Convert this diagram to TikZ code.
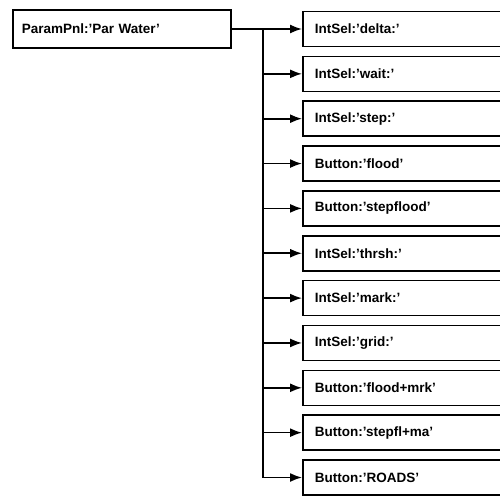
\documentclass[tikz,border=0pt]{standalone}
\usepackage{fontspec}
\setmainfont{Liberation Sans}
\usetikzlibrary{arrows.meta}
\begin{document}
\begin{tikzpicture}[
    x=1pt, y=-1pt, line width=1.6pt,
    every node/.style={font=\bfseries\fontsize{13.5}{15}\selectfont},
    widget/.style={draw, anchor=west, minimum height=35pt, minimum width=240pt,
        text width=216pt, align=left, inner xsep=12pt},
    link/.style={-{Latex[length=12pt,width=9pt]}}]
    \useasboundingbox (0,0) rectangle (500,495);
    \clip (0,0) rectangle (500,495);
    \node[draw, anchor=west, minimum height=38pt, minimum width=217pt,
        text width=200pt, align=left, inner xsep=9pt] (pnl) at (12,29)
        {ParamPnl:'Par Water'};
    \foreach \lbl [count=\i] in {IntSel:'delta:', IntSel:'wait:', IntSel:'step:',
        Button:'flood', Button:'stepflood', IntSel:'thrsh:', IntSel:'mark:',
        IntSel:'grid:', Button:'flood+mrk', Button:'stepfl+ma', Button:'ROADS'}
        \node[widget] (c\i) at (302,{29+44.85*(\i-1)}) {\lbl};
    \coordinate (trunk) at (263,29);
    \draw[link] (pnl.east) -- (c1.west);
    \draw (trunk) -- (trunk |- c11.west);
    \foreach \i in {2,...,11}
        \draw[link] (trunk |- c\i.west) -- (c\i.west);
\end{tikzpicture}
\end{document}
